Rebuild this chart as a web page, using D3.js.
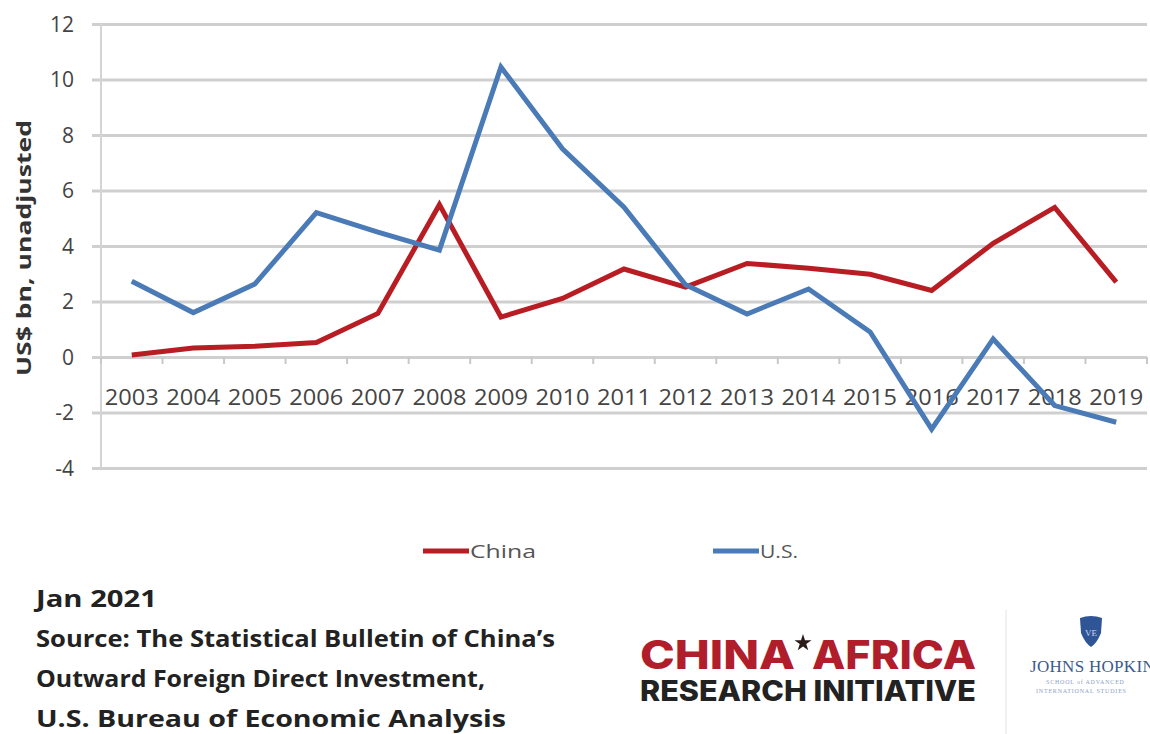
<!DOCTYPE html>
<html>
<head>
<meta charset="utf-8">
<script src="https://cdn.jsdelivr.net/npm/d3@7"></script>
<style>
  html, body { margin: 0; padding: 0; background: #fff; }
  svg { display: block; }
</style>
</head>
<body>
<svg id="chart" width="1150" height="734"></svg>
<script>
// Annual FDI flows into Africa, US$ bn
const years = ["2003","2004","2005","2006","2007","2008","2009","2010","2011","2012","2013","2014","2015","2016","2017","2018","2019"];
const chinaValues = [0.07, 0.32, 0.39, 0.52, 1.57, 5.49, 1.44, 2.11, 3.17, 2.52, 3.37, 3.20, 2.98, 2.40, 4.10, 5.39, 2.70];
const usValues = [2.73, 1.60, 2.63, 5.20, 4.50, 3.85, 10.45, 7.50, 5.40, 2.60, 1.55, 2.45, 0.90, -2.60, 0.65, -1.75, -2.35];
const yTicks = [-4, -2, 0, 2, 4, 6, 8, 10, 12];
const seriesNames = ["China", "U.S."];
const seriesColors = ["#b81d24", "#4a7bb7"];
const footnoteLines = [
  "Jan 2021",
  "Source: The Statistical Bulletin of China\u2019s",
  "Outward Foreign Direct Investment,",
  "U.S. Bureau of Economic Analysis"
];

const svg = d3.select("#chart");
const plot = { left: 101, right: 1147, top: 24, bottom: 468 };

const x = d3.scaleBand().domain(years).range([plot.left, plot.right]).padding(0);
const y = d3.scaleLinear().domain([-4, 12]).range([plot.bottom, plot.top]);

const labelFont = "'Open Sans', 'DejaVu Sans', sans-serif";

// horizontal gridlines with short outer ticks
const gy = svg.append("g").attr("transform", `translate(${plot.right},0)`);
gy.call(d3.axisLeft(y).tickValues(yTicks).tickSize(plot.right - plot.left + 9).tickFormat(""));
gy.select(".domain").remove();
gy.selectAll(".tick line").attr("stroke", "#cfcfcf").attr("stroke-width", 3);

// y tick labels
svg.append("g").selectAll("text").data(yTicks).join("text")
  .attr("x", 74).attr("y", d => y(d)).attr("dy", "0.36em")
  .attr("text-anchor", "end")
  .attr("font-family", labelFont).attr("font-size", 21)
  .attr("fill", "#444")
  .text(d => d);

// vertical axis line
svg.append("line")
  .attr("x1", plot.left).attr("x2", plot.left)
  .attr("y1", y(12)).attr("y2", y(-4))
  .attr("stroke", "#d4d4d4").attr("stroke-width", 2);

// category axis along zero
const gx = svg.append("g").attr("transform", `translate(0,${y(0)})`);
const boundaries = years.map(d => x(d)).concat([plot.right]);
gx.selectAll("line.tk").data(boundaries).join("line")
  .attr("class", "tk")
  .attr("x1", d => d).attr("x2", d => d)
  .attr("y1", 0).attr("y2", 7)
  .attr("stroke", "#c8c8c8").attr("stroke-width", 2);
gx.selectAll("text").data(years).join("text")
  .attr("x", d => x(d) + x.bandwidth() / 2)
  .attr("y", 40)
  .attr("dy", "0.36em")
  .attr("text-anchor", "middle")
  .attr("font-family", labelFont).attr("font-size", 22.5)
  .attr("fill", "#444")
  .attr("textLength", 54).attr("lengthAdjust", "spacingAndGlyphs")
  .text(d => d);

// y axis title
svg.append("text")
  .attr("transform", `translate(31,248) rotate(-90)`)
  .attr("text-anchor", "middle")
  .attr("font-family", labelFont).attr("font-size", 20).attr("font-weight", 700)
  .attr("fill", "#333")
  .attr("textLength", 256).attr("lengthAdjust", "spacingAndGlyphs")
  .text("US$ bn, unadjusted");

// series lines
const line = d3.line()
  .x((d, i) => x(years[i]) + x.bandwidth() / 2)
  .y(d => y(d));
const series = [chinaValues, usValues];
svg.append("g").selectAll("path").data(series).join("path")
  .attr("d", line)
  .attr("fill", "none")
  .attr("stroke", (d, i) => seriesColors[i])
  .attr("stroke-width", 5)
  .attr("stroke-linejoin", "miter")
  .attr("stroke-linecap", "butt");

// legend
const legendPos = [423, 713];
const lg = svg.append("g").selectAll("g").data(seriesNames).join("g")
  .attr("transform", (d, i) => `translate(${legendPos[i]},551)`);
lg.append("line").attr("x1", 0).attr("x2", 46).attr("y1", 0).attr("y2", 0)
  .attr("stroke", (d, i) => seriesColors[i]).attr("stroke-width", 5);
lg.append("text").attr("x", 47).attr("dy", "0.36em")
  .attr("font-family", labelFont).attr("font-size", 19).attr("fill", "#555")
  .attr("textLength", (d, i) => i === 0 ? 66 : 38).attr("lengthAdjust", "spacingAndGlyphs")
  .text(d => d);

// footnote
const noteWidths = [121, 519, 449, 470];
svg.append("g").selectAll("text").data(footnoteLines).join("text")
  .attr("x", 36)
  .attr("y", (d, i) => 607 + i * 40)
  .attr("font-family", labelFont).attr("font-size", 23).attr("font-weight", 700)
  .attr("fill", "#222")
  .attr("textLength", (d, i) => noteWidths[i]).attr("lengthAdjust", "spacingAndGlyphs")
  .text(d => d);

// CHINA*AFRICA Research Initiative wordmark
const logoFont = "Inter, Roboto, 'Liberation Sans', sans-serif";
const logo = svg.append("g");
logo.append("text").attr("x", 640).attr("y", 669)
  .attr("font-family", logoFont).attr("font-size", 40).attr("font-weight", 800)
  .attr("fill", "#b01e2c")
  .attr("textLength", 155).attr("lengthAdjust", "spacingAndGlyphs")
  .text("CHINA");
logo.append("path")
  .attr("d", d3.symbol(d3.symbolStar, 90)())
  .attr("transform", "translate(803,643)")
  .attr("fill", "#2a1a1a");
logo.append("text").attr("x", 812).attr("y", 669)
  .attr("font-family", logoFont).attr("font-size", 40).attr("font-weight", 800)
  .attr("fill", "#b01e2c")
  .attr("textLength", 164).attr("lengthAdjust", "spacingAndGlyphs")
  .text("AFRICA");
logo.append("text").attr("x", 640).attr("y", 701)
  .attr("font-family", logoFont).attr("font-size", 29).attr("font-weight", 800)
  .attr("fill", "#222")
  .attr("textLength", 336).attr("lengthAdjust", "spacingAndGlyphs")
  .text("RESEARCH INITIATIVE");

// divider
svg.append("line").attr("x1", 1006).attr("x2", 1006).attr("y1", 610).attr("y2", 734)
  .attr("stroke", "#ececec").attr("stroke-width", 1.5);

// Johns Hopkins SAIS mark
const jh = svg.append("g");
jh.append("path")
  .attr("d", "M1080,618 Q1091,614 1102,618 L1101,633 Q1097,643 1091,647 Q1085,643 1081,633 Z")
  .attr("fill", "#2f5597");
jh.append("text").attr("x", 1091).attr("y", 636).attr("text-anchor", "middle")
  .attr("font-family", "'Liberation Serif', serif").attr("font-size", 9).attr("fill", "#c9d6ee")
  .text("VE");
jh.append("text").attr("x", 1030).attr("y", 672)
  .attr("font-family", "'Liberation Serif', serif").attr("font-size", 17)
  .attr("fill", "#3b5a8c").attr("letter-spacing", 0.3)
  .text("JOHNS HOPKINS");
jh.append("text").attr("x", 1046).attr("y", 684)
  .attr("font-family", "'Liberation Serif', serif").attr("font-size", 6)
  .attr("fill", "#8ea1c2").attr("letter-spacing", 0.8)
  .text("SCHOOL of ADVANCED");
jh.append("text").attr("x", 1036).attr("y", 693)
  .attr("font-family", "'Liberation Serif', serif").attr("font-size", 6)
  .attr("fill", "#8ea1c2").attr("letter-spacing", 0.8)
  .text("INTERNATIONAL STUDIES");
</script>
</body>
</html>
